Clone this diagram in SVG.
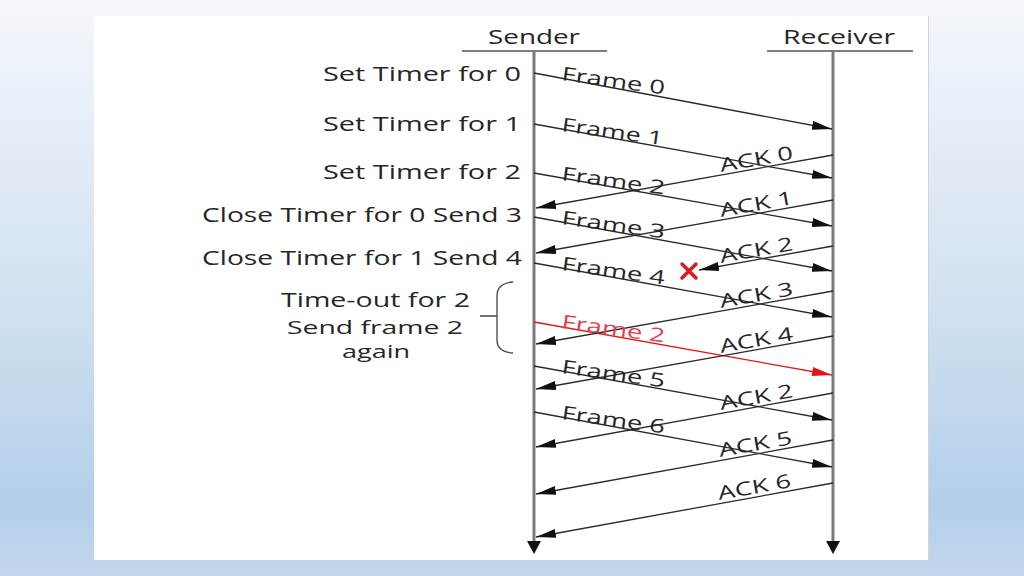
<svg xmlns="http://www.w3.org/2000/svg" width="1024" height="576" viewBox="0 0 1024 576">
  <defs>
    <linearGradient id="bg" x1="0" y1="0" x2="0" y2="1">
      <stop offset="0" stop-color="#f4f7fb"/>
      <stop offset="0.5" stop-color="#d3e2f1"/>
      <stop offset="0.88" stop-color="#b3cfe9"/>
      <stop offset="1" stop-color="#c3d7ec"/>
    </linearGradient>
    <marker id="ah" markerUnits="userSpaceOnUse" markerWidth="20" markerHeight="9" refX="20" refY="4.5" orient="auto">
      <path d="M0,0 L20,4.5 L0,9 z" fill="#111"/>
    </marker>
    <marker id="ahr" markerUnits="userSpaceOnUse" markerWidth="20" markerHeight="9" refX="20" refY="4.5" orient="auto">
      <path d="M0,0 L20,4.5 L0,9 z" fill="#e01818"/>
    </marker>
    <style>
      .lbl { font-family: "Open Sans", "Liberation Sans", sans-serif; font-size: 20.5px; fill: #262626; }
      .lbs { font-family: "Open Sans", "Liberation Sans", sans-serif; font-size: 17.5px; fill: #262626; }
      .hdr { font-family: "Open Sans", "Liberation Sans", sans-serif; font-size: 20px; fill: #262626; }
      .msg { font-family: "Open Sans", "Liberation Sans", sans-serif; font-size: 19px; fill: #262626; }
      .red { fill: #e0404a; }
      .life { stroke: #7a7a7a; stroke-width: 3; fill: none; }
      .uline { stroke: #555; stroke-width: 1.6; }
      .c { stroke: #2a2a2a; stroke-width: 1.3; fill: none; marker-end: url(#ah); }
      .cr { stroke: #e01818; stroke-width: 1.3; fill: none; marker-end: url(#ahr); }
      .tip { fill: #111; }
    </style>
  </defs>

  <rect x="0" y="0" width="1024" height="576" fill="url(#bg)"/>
  <rect x="94" y="16" width="834" height="544" fill="#ffffff"/>
  <line x1="928.5" y1="16" x2="928.5" y2="560" stroke="#d0d4da" stroke-width="1"/>

  <g id="sender">
    <text class="hdr" x="488" y="44" textLength="92" lengthAdjust="spacingAndGlyphs">Sender</text>
    <line class="uline" x1="462" y1="51" x2="607" y2="51"/>
    <line class="life" x1="534" y1="51" x2="534" y2="543"/>
    <path class="tip" d="M527,541 L541,541 L534,554 z"/>
  </g>

  <g id="receiver">
    <text class="hdr" x="783" y="44" textLength="112" lengthAdjust="spacingAndGlyphs">Receiver</text>
    <line class="uline" x1="767" y1="51" x2="913" y2="51"/>
    <line class="life" x1="833" y1="51" x2="833" y2="543"/>
    <path class="tip" d="M826,541 L840,541 L833,554 z"/>
  </g>

  <g id="sender-events">
    <text class="lbl" x="323" y="81" textLength="198" lengthAdjust="spacingAndGlyphs">Set Timer for 0</text>
    <text class="lbl" x="323" y="131" textLength="198" lengthAdjust="spacingAndGlyphs">Set Timer for 1</text>
    <text class="lbl" x="323" y="179" textLength="198" lengthAdjust="spacingAndGlyphs">Set Timer for 2</text>
    <text class="lbl" x="202" y="222" textLength="320" lengthAdjust="spacingAndGlyphs">Close Timer for 0 Send 3</text>
    <text class="lbl" x="202" y="265" textLength="320" lengthAdjust="spacingAndGlyphs">Close Timer for 1 Send 4</text>
  </g>

  <g id="timeout">
    <text class="lbl" x="281" y="307" textLength="189" lengthAdjust="spacingAndGlyphs">Time-out for 2</text>
    <text class="lbs" x="287" y="334" textLength="176" lengthAdjust="spacingAndGlyphs">Send frame 2</text>
    <text class="lbs" x="342" y="358" textLength="68" lengthAdjust="spacingAndGlyphs">again</text>
    <path d="M513,282 Q497,283 497,296 L497,340 Q497,352 513,353 M480,316 L497,316" stroke="#444" stroke-width="1.3" fill="none"/>
  </g>

  <g id="connectors">
    <line class="c" x1="534" y1="73" x2="832" y2="129"/>
    <line class="c" x1="534" y1="124" x2="832" y2="178"/>
    <line class="c" x1="534" y1="173" x2="832" y2="226"/>
    <line class="c" x1="534" y1="217" x2="832" y2="271"/>
    <line class="c" x1="534" y1="263" x2="832" y2="317"/>
    <line class="cr" x1="534" y1="322" x2="832" y2="375"/>
    <line class="c" x1="534" y1="366" x2="832" y2="420"/>
    <line class="c" x1="534" y1="412" x2="832" y2="467"/>

    <line class="c" x1="833" y1="155" x2="536" y2="208"/>
    <line class="c" x1="833" y1="200" x2="536" y2="253"/>
    <line class="c" x1="833" y1="246" x2="699" y2="270"/>
    <line class="c" x1="833" y1="291" x2="536" y2="344"/>
    <line class="c" x1="833" y1="336" x2="536" y2="389"/>
    <line class="c" x1="833" y1="393" x2="536" y2="447"/>
    <line class="c" x1="833" y1="440" x2="536" y2="494"/>
    <line class="c" x1="833" y1="483" x2="536" y2="537"/>
  </g>

  <g id="lost">
    <path d="M682,264 L696,278 M696,264 L682,278" stroke="#e01818" stroke-width="3.5" stroke-linecap="round"/>
  </g>

  <g id="frame-labels">
    <text class="msg" x="561" y="80" transform="rotate(8 561 80)" textLength="104" lengthAdjust="spacingAndGlyphs">Frame 0</text>
    <text class="msg" x="561" y="131" transform="rotate(8 561 131)" textLength="102" lengthAdjust="spacingAndGlyphs">Frame 1</text>
    <text class="msg" x="561" y="180" transform="rotate(8 561 180)" textLength="104" lengthAdjust="spacingAndGlyphs">Frame 2</text>
    <text class="msg" x="561" y="224" transform="rotate(8 561 224)" textLength="104" lengthAdjust="spacingAndGlyphs">Frame 3</text>
    <text class="msg" x="561" y="270" transform="rotate(8 561 270)" textLength="104" lengthAdjust="spacingAndGlyphs">Frame 4</text>
    <text class="msg red" x="561" y="328" transform="rotate(8 561 328)" textLength="104" lengthAdjust="spacingAndGlyphs">Frame 2</text>
    <text class="msg" x="561" y="373" transform="rotate(8 561 373)" textLength="104" lengthAdjust="spacingAndGlyphs">Frame 5</text>
    <text class="msg" x="561" y="419" transform="rotate(8 561 419)" textLength="104" lengthAdjust="spacingAndGlyphs">Frame 6</text>
  </g>

  <g id="ack-labels">
    <text class="msg" x="721" y="172" transform="rotate(-10 721 172)" textLength="74" lengthAdjust="spacingAndGlyphs">ACK 0</text>
    <text class="msg" x="721" y="217" transform="rotate(-10 721 217)" textLength="74" lengthAdjust="spacingAndGlyphs">ACK 1</text>
    <text class="msg" x="721" y="263" transform="rotate(-10 721 263)" textLength="74" lengthAdjust="spacingAndGlyphs">ACK 2</text>
    <text class="msg" x="721" y="308" transform="rotate(-10 721 308)" textLength="74" lengthAdjust="spacingAndGlyphs">ACK 3</text>
    <text class="msg" x="721" y="353" transform="rotate(-10 721 353)" textLength="74" lengthAdjust="spacingAndGlyphs">ACK 4</text>
    <text class="msg" x="721" y="410" transform="rotate(-10 721 410)" textLength="74" lengthAdjust="spacingAndGlyphs">ACK 2</text>
    <text class="msg" x="720" y="457" transform="rotate(-10 720 457)" textLength="74" lengthAdjust="spacingAndGlyphs">ACK 5</text>
    <text class="msg" x="719" y="500" transform="rotate(-10 719 500)" textLength="74" lengthAdjust="spacingAndGlyphs">ACK 6</text>
  </g>
</svg>
